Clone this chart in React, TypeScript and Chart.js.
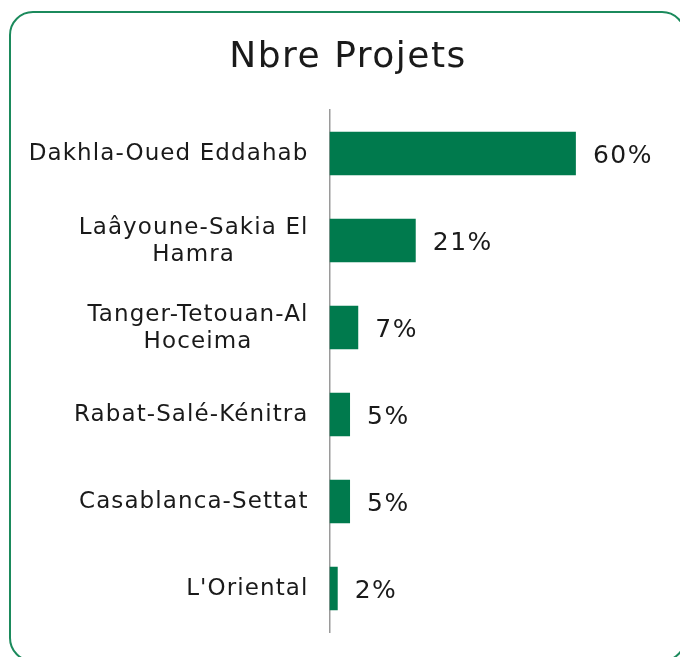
import React, { useEffect, useRef } from "react";
import { Chart, registerables } from "chart.js";

Chart.register(...registerables);

const titleText = "Nbre Projets";
const categories: string[][] = [
  ["Dakhla-Oued Eddahab"],
  ["Laâyoune-Sakia El", "Hamra"],
  ["Tanger-Tetouan-Al", "Hoceima"],
  ["Rabat-Salé-Kénitra"],
  ["Casablanca-Settat"],
  ["L'Oriental"],
];
const values: number[] = [60, 21, 7, 5, 5, 2];
const valueLabels: string[] = ["60%", "21%", "7%", "5%", "5%", "2%"];

const FONT = '"DejaVu Sans", sans-serif';
const TEXT = "#1a1a1a";
const GREEN = "#007a4d";

const textPlugin = {
  id: "customText",
  afterDraw(chart: any) {
    const ctx = chart.ctx as CanvasRenderingContext2D;
    const ys = chart.scales.y;
    const xs = chart.scales.x;
    ctx.save();
    ctx.fillStyle = TEXT;

    // title
    ctx.font = `36px ${FONT}`;
    (ctx as any).letterSpacing = "1.5px";
    ctx.textAlign = "center";
    ctx.textBaseline = "alphabetic";
    ctx.fillText(titleText, 348, 67);

    // category labels
    ctx.font = `23px ${FONT}`;
    (ctx as any).letterSpacing = "1.1px";
    ctx.textBaseline = "middle";
    ctx.textAlign = "center";
    const right = ys.right - 21;
    const lh = 27;
    categories.forEach((lines, i) => {
      const yc = ys.getPixelForValue(i) + 1;
      const maxW = Math.max(...lines.map((l) => ctx.measureText(l).width));
      const cx = right - maxW / 2;
      const y0 = yc - ((lines.length - 1) * lh) / 2;
      lines.forEach((l, j) => ctx.fillText(l, cx, y0 + j * lh));
    });

    // value labels
    ctx.font = `25px ${FONT}`;
    (ctx as any).letterSpacing = "1.5px";
    ctx.textAlign = "left";
    values.forEach((v, i) => {
      const x = xs.getPixelForValue(v) + 17;
      const y = ys.getPixelForValue(i) + 2.5;
      ctx.fillText(valueLabels[i], x, y);
    });
    ctx.restore();
  },
};

export default function App() {
  const ref = useRef<HTMLCanvasElement | null>(null);

  useEffect(() => {
    document.body.style.overflow = "hidden";
    if (!ref.current) return;
    const chart = new Chart(ref.current, {
      type: "bar",
      data: {
        labels: categories.map((c) => c.join(" ")),
        datasets: [
          {
            data: values,
            backgroundColor: GREEN,
            borderWidth: 0,
            barPercentage: 0.5,
            categoryPercentage: 1,
          },
        ],
      },
      options: {
        indexAxis: "y",
        responsive: false,
        animation: false,
        layout: { padding: { left: 329.5, top: 110, right: 22, bottom: 25 } },
        plugins: {
          legend: { display: false },
          title: { display: false },
          tooltip: { enabled: false },
        },
        scales: {
          x: { min: 0, max: 80, display: false },
          y: {
            ticks: { display: false },
            grid: { display: true, drawOnChartArea: false, drawTicks: false },
            border: { display: true, color: "#9a9a9a", width: 1.5 },
            afterFit: (s: any) => {
              s.width = 0;
            },
          },
        },
      },
      plugins: [textPlugin],
    });
    return () => chart.destroy();
  }, []);

  return (
    <div
      style={{
        position: "fixed",
        left: 0,
        top: 0,
        width: 680,
        height: 657,
        overflow: "hidden",
        background: "#ffffff",
      }}
    >
      <div
        style={{
          position: "absolute",
          left: 9,
          top: 11,
          width: 677,
          height: 651,
          border: "2px solid #1b8a5c",
          borderRadius: 24,
          boxSizing: "border-box",
        }}
      />
      <canvas
        ref={ref}
        width={680}
        height={657}
        style={{ position: "absolute", left: 0, top: 0, width: 680, height: 657 }}
      />
    </div>
  );
}
